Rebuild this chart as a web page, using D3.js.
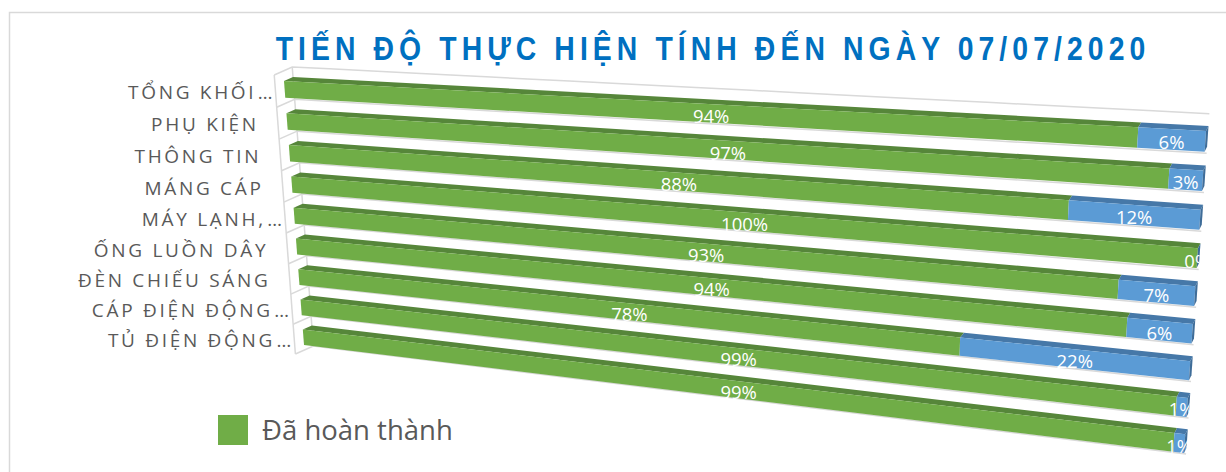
<!DOCTYPE html>
<html lang="vi">
  <head>
    <meta charset="UTF-8" />
    <title>Tiến độ thực hiện</title>
    <script src="https://cdn.jsdelivr.net/npm/d3@7"></script>
    <style>
      body { margin: 0; background: #fff; }
      svg { display: block; }
    </style>
  </head>

  <body>
    <script>

      // data (top to bottom)
      var categories = ["TỔNG KHỐI", "PHỤ KIỆN", "THÔNG TIN", "MÁNG CÁP", "MÁY LẠNH,",
                        "ỐNG LUỒN DÂY", "ĐÈN CHIẾU SÁNG", "CÁP ĐIỆN ĐỘNG", "TỦ ĐIỆN ĐỘNG"];
      var truncated = [true, false, false, false, true, false, false, true, true];
      var done      = [94, 97, 88, 100, 93, 94, 78, 99, 99];
      var remaining = [6, 3, 12, 0, 7, 6, 22, 1, 1];
      var seriesNames = ["Đã hoàn thành", "Còn lại"];

      var w = 1226,
          h = 472;

      var svg = d3.select("body").append("svg")
                  .attr("width", w)
                  .attr("height", h);

      svg.append("rect")
         .attr("x", 9.5)
         .attr("y", 12.5)
         .attr("width", 1240)
         .attr("height", 480)
         .attr("fill", "#fff")
         .attr("stroke", "#d9d9d9")
         .attr("stroke-width", 1.5);

      // front plane of the bars, seen in perspective (tl, tr, br, bl)
      var plane = [[284, 81], [1206, 131], [1184, 453], [304, 345]];

      function homography(q) {
        var x0 = q[0][0], y0 = q[0][1], x1 = q[1][0], y1 = q[1][1],
            x2 = q[2][0], y2 = q[2][1], x3 = q[3][0], y3 = q[3][1];
        var dx1 = x1 - x2, dy1 = y1 - y2, dx2 = x3 - x2, dy2 = y3 - y2,
            dx3 = x0 - x1 + x2 - x3, dy3 = y0 - y1 + y2 - y3;
        var den = dx1 * dy2 - dx2 * dy1;
        var g = (dx3 * dy2 - dx2 * dy3) / den,
            hh = (dx1 * dy3 - dx3 * dy1) / den;
        var a = x1 - x0 + g * x1, b = x3 - x0 + hh * x3,
            d = y1 - y0 + g * y1, e = y3 - y0 + hh * y3;
        return function(s, t) {
          var k = g * s + hh * t + 1;
          return [(a * s + b * t + x0) / k, (d * s + e * t + y0) / k];
        };
      }
      var H = homography(plane);

      // depth offset of the 3d boxes
      var depthX = d3.scaleLinear().domain([0, 1]).range([9, 2.5]);
      var depthY = d3.scaleLinear().domain([0, 1]).range([-4, -5]);

      function P(s, t, z) {
        var p = H(s, t);
        return [p[0] + z * depthX(s), p[1] + z * depthY(s)];
      }
      function poly(pts) { return "M" + pts.join("L") + "Z"; }

      var xScale = d3.scaleLinear().domain([0, 100]).range([0, 1]);
      var yScale = d3.scaleBand()
                     .domain(categories)
                     .range([0, 1])
                     .paddingInner(0.48)
                     .paddingOuter(0);
      var step = yScale.step(),
          bw = yScale.bandwidth();

      var rows = categories.map(function(c, i) {
        return { cat: c, done: done[i], remaining: remaining[i] };
      });
      var stacked = d3.stack().keys(["done", "remaining"])(rows);

      var colors = {
        done:      { front: "#70ad47", top: "#56863a", side: "#4d7932" },
        remaining: { front: "#5b9bd5", top: "#4678a8", side: "#3f6d99" }
      };

      // walls
      var grid = [yScale(categories[0]) - 0.31 * step].concat(categories.map(function(c) {
        return yScale(c) + 0.69 * step;
      }));
      var walls = svg.append("g")
                     .attr("fill", "none")
                     .attr("stroke", "#d9d9d9")
                     .attr("stroke-width", 1.5);
      walls.selectAll(".back")
           .data(grid)
           .enter()
           .append("path")
           .attr("d", function(t) {
             return "M" + [P(0, t, -1)].concat(d3.range(0, 1.001, 0.05).map(function(s) { return P(s, t, 1); })).join("L");
           });
      walls.append("path")
           .attr("d", "M" + P(0, grid[0], -1) + "L" + P(0, grid[grid.length - 1], -1));
      walls.append("path")
           .attr("d", "M" + P(0, grid[0], 1) + "L" + P(0, grid[grid.length - 1], 1));

      // bars
      var bars = svg.append("g");
      stacked.forEach(function(series, si) {
        var col = colors[series.key];
        series.forEach(function(d, i) {
          var s0 = xScale(d[0]), s1 = xScale(d[1]),
              t0 = yScale(d.data.cat), t1 = t0 + bw;
          bars.append("path")
              .attr("fill", col.top)
              .attr("d", poly([P(s0, t0, 0), P(s1, t0, 0), P(s1, t0, 1), P(s0, t0, 1)]));
          bars.append("path")
              .attr("fill", col.front)
              .attr("d", poly([P(s0, t0, 0), P(s1, t0, 0), P(s1, t1, 0), P(s0, t1, 0)]));
          if (si === stacked.length - 1) {
            bars.append("path")
                .attr("fill", col.side)
                .attr("d", poly([P(s1, t0, 0), P(s1, t0, 1), P(s1, t1, 1), P(s1, t1, 0)]));
          }
        });
      });

      // data labels, clipped at the bar ends like the original
      var clipPts = [[0, -50]].concat([-0.5, 1.5].map(function(t) { return P(1, t, 1); }))
                              .concat([[0, 600]]);
      svg.append("clipPath")
         .attr("id", "plotclip")
         .append("path")
         .attr("d", poly(clipPts));

      var labels = svg.append("g")
                      .attr("clip-path", "url(#plotclip)")
                      .attr("fill", "#fff")
                      .attr("font-family", "'Open Sans', sans-serif")
                      .attr("font-size", "18.5px")
                      .attr("text-anchor", "middle")
                      .attr("dominant-baseline", "central");
      stacked.forEach(function(series) {
        series.forEach(function(d) {
          var tm = yScale(d.data.cat) + bw / 2,
              a = P(xScale(d[0]), tm, 0),
              b = P(xScale(d[1]), tm, 0);
          labels.append("text")
                .attr("x", (a[0] + b[0]) / 2)
                .attr("y", (a[1] + b[1]) / 2 + 2)
                .text(d.data[series.key] + "%");
        });
      });

      // category labels
      var ls = 2.7;
      var cats = svg.append("g")
                    .attr("fill", "#595959")
                    .attr("font-family", "'Open Sans', sans-serif")
                    .attr("font-size", "19px")
                    .attr("letter-spacing", ls);
      categories.forEach(function(c, i) {
        var p = P(0, yScale(c) + bw / 2, 0);
        var x = p[0] - 31;
        cats.append("text")
            .attr("x", x + ls)
            .attr("y", p[1] + 10)
            .attr("text-anchor", "end")
            .text(c);
        if (truncated[i]) {
          cats.append("text")
              .attr("x", x + 4)
              .attr("y", p[1] + 10)
              .text("…");
        }
      });

      // title
      var title = svg.append("text")
                     .attr("text-anchor", "middle")
                     .attr("fill", "#0070c0")
                     .attr("font-family", "'Liberation Sans', Arial, sans-serif")
                     .attr("font-weight", "bold")
                     .attr("font-size", "33px")
                     .text("TIẾN ĐỘ THỰC HIỆN TÍNH ĐẾN NGÀY 07/07/2020");
      var k = 0.86;
      var raw = title.node().getComputedTextLength();
      var nChars = title.text().length;
      var tls = Math.max(0, (875 / k - raw) / nChars);
      title.attr("letter-spacing", tls)
           .attr("transform", "translate(" + (710.5 + k * tls / 2) + ",60) scale(" + k + ",1)");

      // legend
      svg.append("rect")
         .attr("x", 218)
         .attr("y", 415)
         .attr("width", 30)
         .attr("height", 30)
         .attr("fill", colors.done.front);
      svg.append("text")
         .attr("x", 262)
         .attr("y", 440)
         .attr("fill", "#595959")
         .attr("font-family", "'Open Sans', sans-serif")
         .attr("font-size", "27.5px")
         .text(seriesNames[0]);

    </script>
  </body>
</html>
